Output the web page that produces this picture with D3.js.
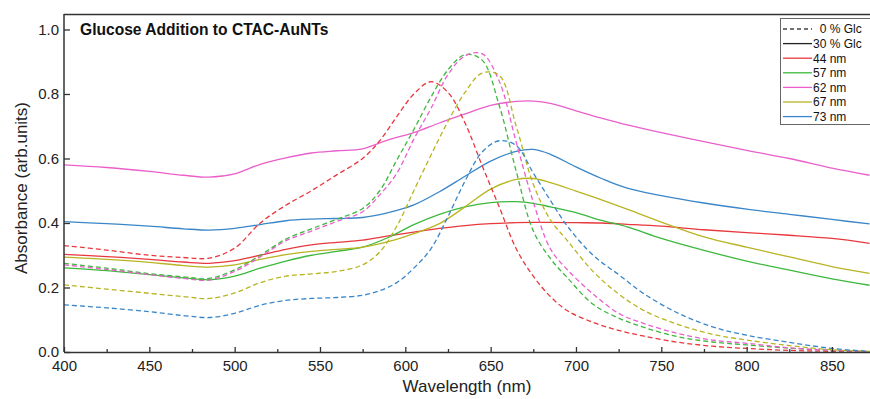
<!DOCTYPE html>
<html>
<head>
<meta charset="utf-8">
<script src="https://cdn.jsdelivr.net/npm/d3@7/dist/d3.min.js"></script>
<style>
  html, body { margin: 0; padding: 0; background: #fff; }
  svg { display: block; font-family: "Liberation Sans", Arial, Helvetica, sans-serif; }
</style>
</head>
<body>
<svg id="chart" width="870" height="399"></svg>
<script>
// Wavelength grids (nm)
const wlDashed = [400, 425, 450, 470, 485, 500, 515, 530, 545, 560, 575, 585, 595, 605, 615, 625, 635, 645, 655, 665, 675, 685, 695, 710, 725, 740, 760, 780, 800, 825, 850, 872];
const wlSolid  = [400, 425, 450, 470, 485, 500, 515, 530, 545, 560, 575, 590, 605, 620, 635, 650, 665, 675, 685, 700, 715, 730, 750, 775, 800, 825, 850, 872];

// 0 % glucose spectra (absorbance, arb. units)
const glc0_44 = [0.330, 0.316, 0.300, 0.293, 0.291, 0.322, 0.400, 0.455, 0.500, 0.550, 0.600, 0.655, 0.730, 0.800, 0.838, 0.805, 0.710, 0.578, 0.450, 0.320, 0.235, 0.172, 0.128, 0.092, 0.067, 0.049, 0.030, 0.018, 0.011, 0.005, 0.002, 0.000];
const glc0_57 = [0.275, 0.260, 0.243, 0.233, 0.228, 0.255, 0.300, 0.350, 0.382, 0.412, 0.445, 0.500, 0.595, 0.690, 0.790, 0.875, 0.922, 0.905, 0.765, 0.560, 0.375, 0.290, 0.230, 0.148, 0.105, 0.076, 0.047, 0.031, 0.022, 0.012, 0.005, 0.001];
const glc0_62 = [0.270, 0.256, 0.240, 0.228, 0.223, 0.250, 0.295, 0.345, 0.375, 0.405, 0.435, 0.487, 0.554, 0.660, 0.755, 0.860, 0.918, 0.925, 0.840, 0.650, 0.465, 0.320, 0.255, 0.180, 0.120, 0.088, 0.057, 0.037, 0.027, 0.013, 0.005, 0.001];
const glc0_67 = [0.208, 0.195, 0.182, 0.172, 0.166, 0.183, 0.215, 0.235, 0.242, 0.250, 0.270, 0.310, 0.390, 0.500, 0.610, 0.715, 0.805, 0.865, 0.858, 0.700, 0.520, 0.410, 0.345, 0.250, 0.180, 0.128, 0.085, 0.055, 0.037, 0.020, 0.007, 0.002];
const glc0_73 = [0.146, 0.137, 0.125, 0.113, 0.107, 0.120, 0.145, 0.160, 0.166, 0.169, 0.176, 0.190, 0.215, 0.260, 0.320, 0.420, 0.530, 0.620, 0.655, 0.640, 0.555, 0.470, 0.390, 0.300, 0.240, 0.180, 0.120, 0.078, 0.052, 0.030, 0.011, 0.002];

// 30 % glucose spectra
const glc30_44 = [0.303, 0.296, 0.287, 0.279, 0.275, 0.283, 0.300, 0.318, 0.332, 0.340, 0.347, 0.360, 0.372, 0.383, 0.392, 0.398, 0.401, 0.402, 0.402, 0.401, 0.400, 0.396, 0.390, 0.379, 0.370, 0.362, 0.352, 0.337];
const glc30_57 = [0.261, 0.252, 0.240, 0.230, 0.224, 0.235, 0.260, 0.282, 0.300, 0.312, 0.325, 0.355, 0.395, 0.427, 0.450, 0.463, 0.466, 0.461, 0.450, 0.432, 0.408, 0.388, 0.352, 0.315, 0.282, 0.254, 0.227, 0.207];
const glc30_62 = [0.580, 0.572, 0.560, 0.548, 0.542, 0.552, 0.582, 0.602, 0.617, 0.624, 0.630, 0.658, 0.680, 0.710, 0.738, 0.765, 0.777, 0.778, 0.771, 0.748, 0.725, 0.704, 0.680, 0.652, 0.625, 0.600, 0.570, 0.548];
const glc30_67 = [0.294, 0.287, 0.278, 0.268, 0.263, 0.270, 0.287, 0.302, 0.312, 0.318, 0.325, 0.342, 0.367, 0.398, 0.450, 0.505, 0.535, 0.538, 0.525, 0.499, 0.472, 0.443, 0.403, 0.357, 0.325, 0.295, 0.265, 0.244];
const glc30_73 = [0.404, 0.398, 0.390, 0.382, 0.378, 0.383, 0.395, 0.407, 0.412, 0.414, 0.417, 0.432, 0.456, 0.497, 0.545, 0.592, 0.622, 0.628, 0.613, 0.574, 0.538, 0.508, 0.485, 0.462, 0.443, 0.427, 0.411, 0.397];

const sizes = ["44 nm", "57 nm", "62 nm", "67 nm", "73 nm"];
const colors = ["#e8383d", "#3cb83c", "#ea5fcb", "#b8b422", "#3a86c8"];
const dashedSets = [glc0_44, glc0_57, glc0_62, glc0_67, glc0_73];
const solidSets = [glc30_44, glc30_57, glc30_62, glc30_67, glc30_73];

const xTicks = [400, 450, 500, 550, 600, 650, 700, 750, 800, 850];
const xMinorTicks = [425, 475, 525, 575, 625, 675, 725, 775, 825];
const yTicks = [0.0, 0.2, 0.4, 0.6, 0.8, 1.0];

const title = "Glucose Addition to CTAC-AuNTs";
const xTitle = "Wavelength (nm)";
const yTitle = "Absorbance (arb.units)";
const glcLabels = ["0 % Glc", "30 % Glc"];

const svg = d3.select("#chart");
const mLeft = 64, mRight = 869.5, mTop = 14, mBottom = 352;

const x = d3.scaleLinear().domain([400, 872]).range([mLeft, mRight]);
const y = d3.scaleLinear().domain([0, 1.048]).range([mBottom, mTop]);

const axisColor = "#333";

// Frame top edge
svg.append("line")
  .attr("x1", mLeft).attr("x2", 870).attr("y1", mTop + 0.5).attr("y2", mTop + 0.5)
  .attr("stroke", axisColor).attr("stroke-width", 1.4);

// Curves
const line = d3.line().curve(d3.curveCatmullRom.alpha(0.5));
const plot = svg.append("g");

function drawSeries(wl, vals, color, dashed) {
  plot.append("path")
    .attr("d", line(wl.map((w, i) => [x(w), y(vals[i])])))
    .attr("fill", "none")
    .attr("stroke", color)
    .attr("stroke-width", 1.3)
    .attr("stroke-dasharray", dashed ? "5,3" : null);
}
solidSets.forEach((s, i) => drawSeries(wlSolid, s, colors[i], false));
dashedSets.forEach((s, i) => drawSeries(wlDashed, s, colors[i], true));

// Axes (ticks point inward)
const xAxis = d3.axisBottom(x).tickValues(xTicks).tickFormat(d3.format("d"))
  .tickSizeInner(-5).tickSizeOuter(0).tickPadding(8);
const gx = svg.append("g").attr("transform", `translate(0,${mBottom})`).call(xAxis);
const xMinor = d3.axisBottom(x).tickValues(xMinorTicks).tickFormat("")
  .tickSizeInner(-3).tickSizeOuter(0);
const gxm = svg.append("g").attr("transform", `translate(0,${mBottom})`).call(xMinor);
gxm.select(".domain").remove();

const yAxis = d3.axisLeft(y).tickValues(yTicks).tickFormat(d3.format(".1f"))
  .tickSizeInner(-6).tickSizeOuter(0).tickPadding(5);
const gy = svg.append("g").attr("transform", `translate(${mLeft},0)`).call(yAxis);

[gx, gxm, gy].forEach(g => {
  g.selectAll(".domain").attr("stroke", axisColor).attr("stroke-width", 1.5);
  g.selectAll(".tick line").attr("stroke", axisColor).attr("stroke-width", 1.3);
  g.selectAll(".tick text").attr("fill", "#222").attr("font-size", 15)
    .attr("font-family", "Liberation Sans, Arial, sans-serif");
});
gy.select(".domain").attr("d", `M0,${mBottom}V${mTop}`);

// Title and axis titles
svg.append("text").attr("x", 80).attr("y", 35)
  .attr("font-size", 15.6).attr("font-weight", "bold").attr("fill", "#111")
  .text(title);

svg.append("text").attr("x", 467).attr("y", 392)
  .attr("text-anchor", "middle").attr("font-size", 17).attr("fill", "#222")
  .text(xTitle);

svg.append("text")
  .attr("transform", "translate(27,188) rotate(-90)")
  .attr("text-anchor", "middle").attr("font-size", 17).attr("fill", "#222")
  .text(yTitle);

// Legend
const lg = svg.append("g");
lg.append("rect").attr("x", 780.5).attr("y", 18.5).attr("width", 100).attr("height", 106)
  .attr("fill", "#fff").attr("stroke", "#666").attr("stroke-width", 1);

const entries = [
  { label: glcLabels[0], color: "#444", dashed: true, dx: 6.7 },
  { label: glcLabels[1], color: "#222", dashed: false, dx: 0 }
].concat(sizes.map((s, i) => ({ label: s, color: colors[i], dashed: false, dx: 0 })));

entries.forEach((e, i) => {
  const cy = 29 + i * 14.6;
  lg.append("line").attr("x1", 783).attr("x2", 812).attr("y1", cy).attr("y2", cy)
    .attr("stroke", e.color).attr("stroke-width", 1.3)
    .attr("stroke-dasharray", e.dashed ? "4,3" : null);
  lg.append("text").attr("x", 813 + e.dx).attr("y", cy + 4.3)
    .attr("font-size", 12).attr("fill", "#111").text(e.label);
});
</script>
</body>
</html>
